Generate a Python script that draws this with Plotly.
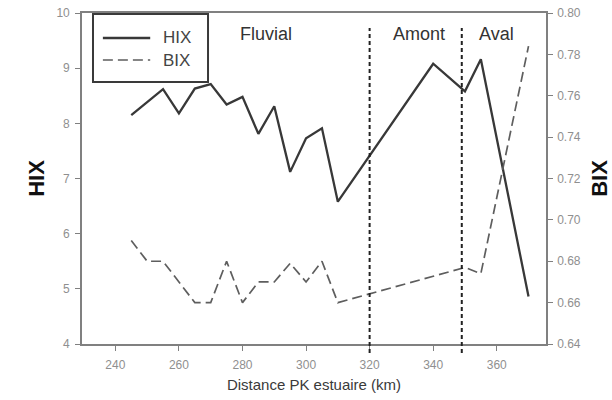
import plotly.graph_objects as go

# Distance along the estuary (PK, km) and fluorescence indices
pk_hix = [245, 255, 260, 265, 270, 275, 280, 285, 290, 295, 300, 305, 310, 340, 350, 355, 370]
hix = [8.15, 8.62, 8.18, 8.63, 8.71, 8.34, 8.48, 7.81, 8.31, 7.12, 7.73, 7.91, 6.58, 9.08, 8.58, 9.16, 4.86]

pk_bix = [245, 250, 255, 265, 270, 275, 280, 285, 290, 295, 300, 305, 310, 350, 355, 370]
bix = [0.690, 0.680, 0.680, 0.660, 0.660, 0.680, 0.660, 0.670, 0.670, 0.679, 0.670, 0.680, 0.660, 0.677, 0.674, 0.784]

# Zone boundaries and zone names
zone_limits = [320, 349]
zone_names = ["Fluvial", "Amont", "Aval"]
zone_label_x = [287.5, 335.5, 360]

x_ticks = [240, 260, 280, 300, 320, 340, 360]
hix_ticks = [4, 5, 6, 7, 8, 9, 10]
bix_ticks = [0.64, 0.66, 0.68, 0.70, 0.72, 0.74, 0.76, 0.78, 0.80]

FONT = "Liberation Sans, Arial, sans-serif"
AXIS_GREY = "#808080"
TICK_GREY = "#8f8f8f"

HIX_LINE = dict(color="#383838", width=2.3)
BIX_LINE = dict(color="#5e5e5e", width=1.7, dash="10px,5px")

fig = go.Figure()
fig.add_trace(go.Scatter(x=pk_hix, y=hix, name="HIX", mode="lines", line=HIX_LINE))
fig.add_trace(go.Scatter(x=pk_bix, y=bix, name="BIX", mode="lines", yaxis="y2", line=BIX_LINE))

# Zone boundaries (dotted verticals, slightly overshooting the x axis)
for xv in zone_limits:
    fig.add_shape(
        type="line", xref="x", yref="paper",
        x0=xv, x1=xv, y0=-0.027, y1=0.955,
        line=dict(color="#222222", width=2, dash="4px,3px"),
        layer="above",
    )

for name, xv in zip(zone_names, zone_label_x):
    fig.add_annotation(
        x=xv, y=9.62, xref="x", yref="y", text=name, showarrow=False,
        font=dict(family=FONT, size=18, color="#333333"),
    )

# Boxed legend in the upper-left corner
fig.add_shape(type="rect", xref="paper", yref="paper",
              x0=0.0237, x1=0.2716, y0=0.7915, y1=0.997,
              line=dict(color="#3a3a3a", width=2), fillcolor="white", layer="above")
legend_rows = [("HIX", HIX_LINE, 0.9245), ("BIX", BIX_LINE, 0.858)]
for label, style, yp in legend_rows:
    fig.add_shape(type="line", xref="paper", yref="paper",
                  x0=0.045, x1=0.147, y0=yp, y1=yp, line=style, layer="above")
    fig.add_annotation(x=0.170, y=yp, xref="paper", yref="paper", text=label,
                       showarrow=False, xanchor="left", yanchor="middle",
                       font=dict(family=FONT, size=17, color="#444444"))

axis_common = dict(
    showgrid=False, zeroline=False, showline=True, automargin=False,
    linecolor=AXIS_GREY, linewidth=1.6,
    ticks="outside", ticklen=5, tickwidth=1, tickcolor=AXIS_GREY,
    tickfont=dict(family=FONT, size=12, color=TICK_GREY),
)

fig.update_layout(
    width=612, height=400,
    margin=dict(l=82, r=66, t=13, b=56),
    paper_bgcolor="white", plot_bgcolor="white",
    font=dict(family=FONT),
    showlegend=False,
    xaxis=dict(
        range=[229.5, 375.5], tickvals=x_ticks, mirror=True,
        ticklabelstandoff=4,
        title=dict(text="Distance PK estuaire (km)", standoff=8,
                   font=dict(family=FONT, size=15, color="#3a3a3a")),
        **axis_common,
    ),
    yaxis=dict(
        range=[4, 10], tickvals=hix_ticks, ticklabelstandoff=3,
        title=dict(text="<b>HIX</b>", standoff=6,
                   font=dict(family=FONT, size=22, color="#111111")),
        **axis_common,
    ),
    yaxis2=dict(
        range=[0.64, 0.80], tickvals=bix_ticks, tickformat=".2f",
        overlaying="y", side="right", anchor="x", ticklabelstandoff=2,
        title=dict(text="<b>BIX</b>", standoff=18,
                   font=dict(family=FONT, size=22, color="#111111")),
        **axis_common,
    ),
)

fig.write_html("out.html")
